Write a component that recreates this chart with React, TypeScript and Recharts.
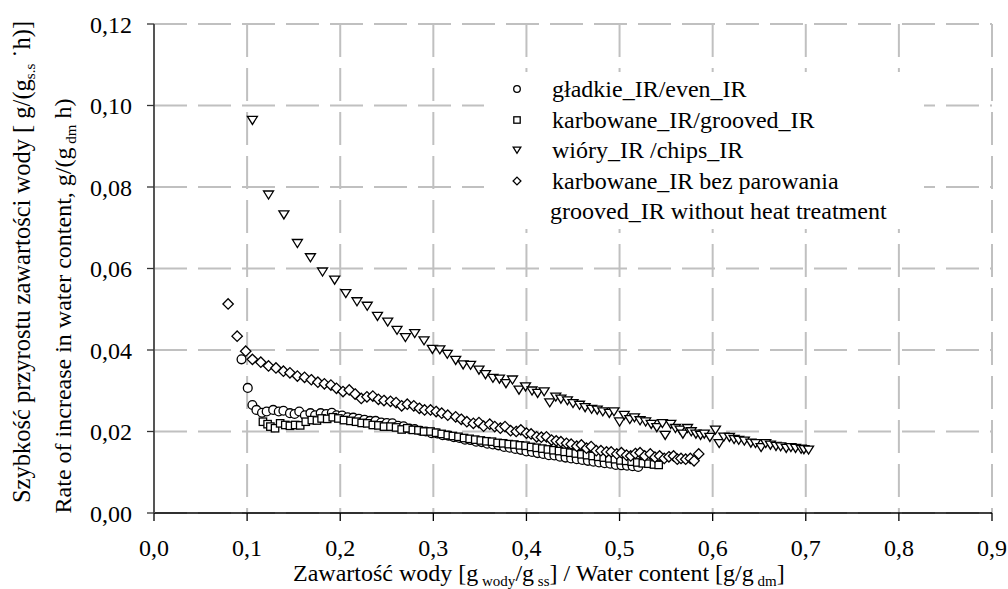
import { ScatterChart, Scatter, XAxis, YAxis, CartesianGrid } from 'recharts';

const FONT = '"Liberation Serif", "Times New Roman", Times, serif';

// x ticks / y ticks
const xTicks = [0, 0.1, 0.2, 0.3, 0.4, 0.5, 0.6, 0.7, 0.8, 0.9];
const yTicks = [0, 0.02, 0.04, 0.06, 0.08, 0.1, 0.12];

const seriesNames = [
  'gładkie_IR/even_IR',
  'karbowane_IR/grooved_IR',
  'wióry_IR /chips_IR',
  'karbowane_IR bez parowania',
];
const legendExtraLine = 'grooved_IR without heat treatment';

// gładkie_IR / even_IR  [x, y]
const evenIR = [
  [0.094, 0.0377], [0.1007, 0.0307], [0.1057, 0.0265], [0.110, 0.0253], [0.116, 0.0246],
  [0.121, 0.0249], [0.128, 0.0253], [0.134, 0.0249], [0.139, 0.0251], [0.146, 0.0245],
  [0.151, 0.0243], [0.156, 0.0249], [0.162, 0.0240], [0.168, 0.0245], [0.173, 0.0240],
  [0.179, 0.0245], [0.185, 0.0243], [0.191, 0.0246], [0.196, 0.0240], [0.202, 0.0239],
  [0.208, 0.0235], [0.214, 0.0234], [0.220, 0.0231], [0.226, 0.0229], [0.232, 0.0226],
  [0.238, 0.0226], [0.244, 0.0222], [0.250, 0.0221], [0.256, 0.0220], [0.262, 0.0214],
  [0.268, 0.0213], [0.274, 0.0207], [0.280, 0.0206], [0.286, 0.0202], [0.292, 0.0200],
  [0.298, 0.0196], [0.304, 0.0195], [0.310, 0.0191], [0.316, 0.0190], [0.322, 0.0186],
  [0.328, 0.0184], [0.334, 0.0180], [0.340, 0.0179], [0.346, 0.0175], [0.352, 0.0174],
  [0.358, 0.0170], [0.364, 0.0168], [0.370, 0.0166], [0.376, 0.0162], [0.382, 0.0160],
  [0.388, 0.0157], [0.394, 0.0155], [0.400, 0.0151], [0.406, 0.0150], [0.412, 0.0147],
  [0.418, 0.0145], [0.424, 0.0142], [0.430, 0.0141], [0.436, 0.0138], [0.442, 0.0136],
  [0.448, 0.0134], [0.454, 0.0132], [0.460, 0.0130], [0.466, 0.0128], [0.472, 0.0126],
  [0.478, 0.0124], [0.484, 0.0122], [0.490, 0.0121], [0.496, 0.0118], [0.502, 0.0117],
  [0.508, 0.0116], [0.514, 0.0115], [0.520, 0.0113],
];

// karbowane_IR / grooved_IR
const groovedIR = [
  [0.117, 0.0224], [0.122, 0.0218], [0.125, 0.0212], [0.130, 0.0208], [0.1355, 0.0220],
  [0.141, 0.0216], [0.146, 0.0214], [0.1516, 0.0216], [0.157, 0.0215], [0.163, 0.0224],
  [0.1695, 0.0228], [0.175, 0.0227], [0.180, 0.0232], [0.186, 0.0231], [0.192, 0.0235],
  [0.198, 0.0232], [0.204, 0.0228], [0.211, 0.0226], [0.217, 0.0224], [0.223, 0.0221],
  [0.229, 0.0220], [0.235, 0.0216], [0.241, 0.0215], [0.247, 0.0212], [0.254, 0.0212],
  [0.260, 0.0210], [0.266, 0.0205], [0.272, 0.0208], [0.278, 0.0204], [0.284, 0.0203],
  [0.290, 0.0200], [0.297, 0.0200], [0.303, 0.0197], [0.309, 0.0194], [0.3155, 0.0191],
  [0.321, 0.0189], [0.327, 0.0187], [0.333, 0.0184], [0.339, 0.0182], [0.345, 0.0180],
  [0.351, 0.0178], [0.357, 0.0176], [0.363, 0.0175], [0.369, 0.0172], [0.375, 0.0171],
  [0.381, 0.0169], [0.387, 0.0168], [0.393, 0.0166], [0.399, 0.0165], [0.405, 0.0162],
  [0.411, 0.0160], [0.417, 0.0158], [0.423, 0.0156], [0.429, 0.0154], [0.435, 0.0152],
  [0.441, 0.0150], [0.447, 0.0148], [0.453, 0.0146], [0.459, 0.0144], [0.465, 0.0142],
  [0.471, 0.0140], [0.477, 0.0138], [0.483, 0.0136], [0.489, 0.0134], [0.495, 0.0132],
  [0.501, 0.0129], [0.507, 0.0128], [0.513, 0.0126], [0.519, 0.0124], [0.525, 0.0122],
  [0.531, 0.0121], [0.537, 0.0119], [0.542, 0.0118],
];

// wióry_IR / chips_IR
const chipsIR = [
  [0.1057, 0.0964], [0.123, 0.0781], [0.1395, 0.0732], [0.154, 0.0662], [0.168, 0.0627],
  [0.181, 0.0592], [0.194, 0.0572], [0.206, 0.0539], [0.218, 0.0519], [0.229, 0.0508],
  [0.240, 0.0483], [0.251, 0.0469], [0.261, 0.0449], [0.270, 0.0431], [0.280, 0.0441],
  [0.290, 0.0423], [0.299, 0.0402], [0.307, 0.0401], [0.315, 0.0390], [0.324, 0.0375],
  [0.332, 0.0364], [0.340, 0.0363], [0.349, 0.0351], [0.356, 0.0340], [0.364, 0.0331],
  [0.371, 0.0329], [0.378, 0.0318], [0.385, 0.0327], [0.392, 0.0302], [0.399, 0.0310],
  [0.406, 0.0300], [0.412, 0.0294], [0.419, 0.0298], [0.425, 0.0271], [0.4315, 0.0285],
  [0.437, 0.0280], [0.444, 0.0276], [0.450, 0.0269], [0.457, 0.0265], [0.463, 0.0259],
  [0.470, 0.0255], [0.476, 0.0253], [0.482, 0.0249], [0.489, 0.0245], [0.494, 0.0249],
  [0.500, 0.0224], [0.505, 0.0240], [0.511, 0.0230], [0.516, 0.0234], [0.522, 0.0227],
  [0.528, 0.0224], [0.534, 0.0218], [0.540, 0.0210], [0.546, 0.0220], [0.549, 0.0191],
  [0.555, 0.0218], [0.560, 0.0208], [0.565, 0.0204], [0.568, 0.0194], [0.573, 0.0208],
  [0.577, 0.0200], [0.582, 0.0194], [0.587, 0.0191], [0.591, 0.0194], [0.597, 0.0186],
  [0.603, 0.0204], [0.607, 0.0171], [0.612, 0.0187], [0.618, 0.0186], [0.623, 0.0181],
  [0.628, 0.0179], [0.634, 0.0177], [0.641, 0.0172], [0.646, 0.0171], [0.652, 0.0161],
  [0.657, 0.0171], [0.662, 0.0167], [0.668, 0.0164], [0.673, 0.0163], [0.679, 0.0159],
  [0.684, 0.0161], [0.689, 0.0159], [0.695, 0.0157], [0.698, 0.0156], [0.703, 0.0155],
];

// karbowane_IR bez parowania / grooved_IR without heat treatment
const groovedNoHeat = [
  [0.0796, 0.0513], [0.0893, 0.0434], [0.0985, 0.0397], [0.1057, 0.0377], [0.1147, 0.0370],
  [0.123, 0.0361], [0.131, 0.0356], [0.139, 0.0348], [0.146, 0.0344], [0.154, 0.0336],
  [0.1617, 0.0333], [0.169, 0.0327], [0.176, 0.0321], [0.183, 0.0317], [0.190, 0.0314],
  [0.196, 0.0306], [0.203, 0.0298], [0.2097, 0.0302], [0.216, 0.0292], [0.2226, 0.0281],
  [0.2287, 0.0285], [0.235, 0.0287], [0.241, 0.0279], [0.247, 0.0276], [0.254, 0.0274],
  [0.260, 0.0271], [0.266, 0.0263], [0.272, 0.0267], [0.279, 0.0263], [0.285, 0.0257],
  [0.2906, 0.0253], [0.297, 0.0253], [0.303, 0.0249], [0.309, 0.0245], [0.3155, 0.0240],
  [0.324, 0.0236], [0.330, 0.0230], [0.336, 0.0224], [0.343, 0.0220], [0.349, 0.0222],
  [0.354, 0.0213], [0.3606, 0.0218], [0.366, 0.0212], [0.372, 0.0208], [0.377, 0.0212],
  [0.383, 0.0202], [0.389, 0.0200], [0.394, 0.0204], [0.400, 0.0196], [0.405, 0.0194],
  [0.411, 0.0187], [0.416, 0.0186], [0.4215, 0.0187], [0.427, 0.0179], [0.432, 0.0177],
  [0.437, 0.0175], [0.443, 0.0171], [0.448, 0.0169], [0.454, 0.0164], [0.459, 0.0167],
  [0.4645, 0.0159], [0.4695, 0.0163], [0.475, 0.0153], [0.480, 0.0153], [0.486, 0.0150],
  [0.491, 0.0150], [0.497, 0.0145], [0.502, 0.0148], [0.5075, 0.0142], [0.512, 0.0140],
  [0.517, 0.0146], [0.522, 0.0148], [0.527, 0.0140], [0.533, 0.0145], [0.538, 0.0137],
  [0.543, 0.0140], [0.548, 0.0134], [0.553, 0.0138], [0.558, 0.0140], [0.562, 0.0132],
  [0.566, 0.0134], [0.571, 0.0132], [0.576, 0.0134], [0.580, 0.0128], [0.585, 0.0145],
];

const toPoints = (arr: number[][]) => arr.map(([x, y]) => ({ x, y }));

const STROKE = '#000';
const SW = 1.3;

const CircleShape = (s: number) => (p: any) => (
  <circle cx={p.cx} cy={p.cy} r={s} fill="#fff" stroke={STROKE} strokeWidth={SW} />
);
const SquareShape = (s: number) => (p: any) => (
  <rect x={p.cx - s} y={p.cy - s} width={s * 2} height={s * 2} fill="#fff" stroke={STROKE} strokeWidth={SW} />
);
const TriangleShape = (s: number) => (p: any) => (
  <polygon
    points={`${p.cx - s},${p.cy - s * 0.75} ${p.cx + s},${p.cy - s * 0.75} ${p.cx},${p.cy + s * 0.85}`}
    fill="#fff"
    stroke={STROKE}
    strokeWidth={SW}
  />
);
const DiamondShape = (s: number) => (p: any) => (
  <polygon
    points={`${p.cx},${p.cy - s} ${p.cx + s},${p.cy} ${p.cx},${p.cy + s} ${p.cx - s},${p.cy}`}
    fill="#fff"
    stroke={STROKE}
    strokeWidth={SW}
  />
);

const shapes = [CircleShape, SquareShape, TriangleShape, DiamondShape];
const chartSizes = [4.4, 3.7, 5, 5.2];
const legendSizes = [3.3, 3.2, 3.8, 3.9];

const fmtX = (v: number) => v.toFixed(1).replace('.', ',');
const fmtY = (v: number) => v.toFixed(2).replace('.', ',');

const YTitle = () => (
  <g style={{ fontFamily: FONT }} fill="#000">
    <text x={30} y={262} fontSize={24.5} textAnchor="middle" transform="rotate(-90, 30, 262)">
      Szybkość przyrostu zawartości wody [ g/(g
      <tspan fontSize={15} dy={5}>s.s</tspan>
      <tspan dy={-5}> ˙h)]</tspan>
    </text>
    <text x={71} y={306} fontSize={24} textAnchor="middle" transform="rotate(-90, 71, 306)">
      Rate of increase in water content, g/(g
      <tspan fontSize={15} dy={5}> dm</tspan>
      <tspan dy={-5}> h)</tspan>
    </text>
  </g>
);

const XTitle = () => (
  <text x={293} y={581} textAnchor="start" style={{ fontFamily: FONT }} fontSize={24} fill="#000">
    Zawartość wody [g
    <tspan fontSize={15} dy={5}> wody</tspan>
    <tspan dy={-5}>/g</tspan>
    <tspan fontSize={15} dy={5}> ss</tspan>
    <tspan dy={-5}>] / Water content [g/g</tspan>
    <tspan fontSize={15} dy={5}> dm</tspan>
    <tspan dy={-5}>]</tspan>
  </text>
);

const ROW = 30.5;

const LegendBox = () => (
  <div
    style={{
      position: 'absolute',
      left: 484,
      top: 72,
      width: 440,
      padding: '2px 0',
      background: '#fff',
      fontFamily: FONT,
      fontSize: 24,
      lineHeight: `${ROW}px`,
      color: '#000',
    }}
  >
    {seriesNames.map((name, i) => (
      <div key={name} style={{ display: 'flex', alignItems: 'center', height: ROW }}>
        <svg width={44} height={20} style={{ flex: 'none', marginLeft: 22 }}>
          {shapes[i](legendSizes[i])({ cx: 11, cy: 10 })}
        </svg>
        <span style={{ marginLeft: 2, whiteSpace: 'nowrap' }}>{name}</span>
      </div>
    ))}
    <div style={{ height: ROW, paddingLeft: 66, whiteSpace: 'nowrap' }}>{legendExtraLine}</div>
  </div>
);

const allSeries = [evenIR, groovedIR, chipsIR, groovedNoHeat];

export default function App() {
  return (
    <div style={{ position: 'absolute', left: 0, top: 0, width: 1008, height: 589, background: '#fff' }}>
      <ScatterChart width={1008} height={589} margin={{ top: 24, right: 16, bottom: 16, left: 74 }}>
        <CartesianGrid stroke="#c0c0c0" strokeWidth={2} strokeDasharray="33 11" />
        <XAxis
          type="number"
          dataKey="x"
          domain={[0, 0.9]}
          ticks={xTicks}
          tickFormatter={fmtX}
          height={60}
          tickSize={8}
          tickMargin={18}
          axisLine={{ stroke: '#000', strokeWidth: 1.6 }}
          tickLine={{ stroke: '#000', strokeWidth: 1.3 }}
          tick={{ fontFamily: FONT, fontSize: 24, fill: '#000' }}
          label={{ content: XTitle }}
          allowDataOverflow
        />
        <YAxis
          type="number"
          dataKey="y"
          domain={[0, 0.12]}
          ticks={yTicks}
          tickFormatter={fmtY}
          width={80}
          tickSize={7}
          tickMargin={15}
          axisLine={{ stroke: '#555', strokeWidth: 2 }}
          tickLine={{ stroke: '#333', strokeWidth: 1.3 }}
          tick={{ fontFamily: FONT, fontSize: 24, fill: '#000' }}
          label={{ content: YTitle }}
          allowDataOverflow
        />
        {allSeries.map((s, i) => (
          <Scatter
            key={seriesNames[i]}
            name={seriesNames[i]}
            data={toPoints(s)}
            shape={shapes[i](chartSizes[i])}
            isAnimationActive={false}
          />
        ))}
      </ScatterChart>
      <LegendBox />
    </div>
  );
}
